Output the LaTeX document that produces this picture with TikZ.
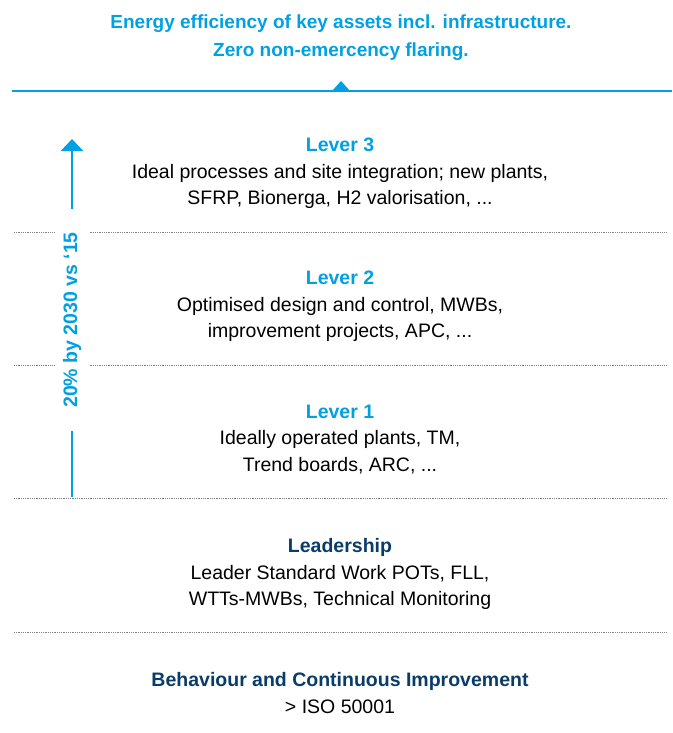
\documentclass[tikz,border=0pt]{standalone}
\usepackage{fontspec}
\setmainfont{Liberation Sans}
\usetikzlibrary{arrows.meta}
\definecolor{basflight}{RGB}{0,160,227}
\definecolor{basfdark}{RGB}{10,60,105}

\begin{document}
\begin{tikzpicture}[x=1pt,y=-1pt,
		block/.style={align=center,font=\fontsize{19.5}{26.5}\selectfont,text=black},
		sep/.style={gray,densely dotted,line width=0.8pt},
		goalline/.style={basflight,line width=2.5pt}]
		\useasboundingbox (0,0) rectangle (672,733);
		\node[align=center,font=\bfseries\fontsize{19}{28}\selectfont,text=basflight] (goal) at (341,38) {Energy efficiency of key assets incl. infrastructure.\\Zero non-emercency flaring.};
		\draw[goalline] (12,91) -- (672,91);
		\fill[basflight] (332,91) -- (341,81) -- (350,91) -- cycle;
		\draw[sep] (14,232) -- (667,232);
		\draw[sep] (14,365) -- (667,365);
		\draw[sep] (14,498) -- (667,498);
		\draw[sep] (14,632) -- (667,632);
		\node[block] (lever3) at (340,173.5) {{\color{basflight}\bfseries Lever 3}\\Ideal processes and site integration; new plants,\\SFRP, Bionerga, H2 valorisation, ...};
		\node[block] (lever2) at (340,306.5) {{\color{basflight}\bfseries Lever 2}\\Optimised design and control, MWBs,\\improvement projects, APC, ...};
		\node[block] (lever1) at (340,439.5) {{\color{basflight}\bfseries Lever 1}\\Ideally operated plants, TM,\\Trend boards, ARC, ...};
		\node[block] (lead) at (340,574) {{\color{basfdark}\bfseries Leadership}\\Leader Standard Work POTs, FLL,\\WTTs-MWBs, Technical Monitoring};
		\node[block] (behav) at (340,693) {{\color{basfdark}\bfseries Behaviour and Continuous Improvement}\\> ISO 50001};
		\node[rotate=90,fill=white,inner xsep=23pt,inner ysep=8pt,font=\bfseries\fontsize{19.5}{19.5}\selectfont,text=basflight] (target) at (72,320) {20\% by 2030 vs ‘15};
		\coordinate (tip) at (72,139);
		\coordinate (foot) at (72,497);
		\draw[goalline,-{Triangle[width=22pt,length=12pt]}] (target.east) -- (tip);
		\draw[goalline] (target.west) -- (foot);
	\end{tikzpicture}
\end{document}
